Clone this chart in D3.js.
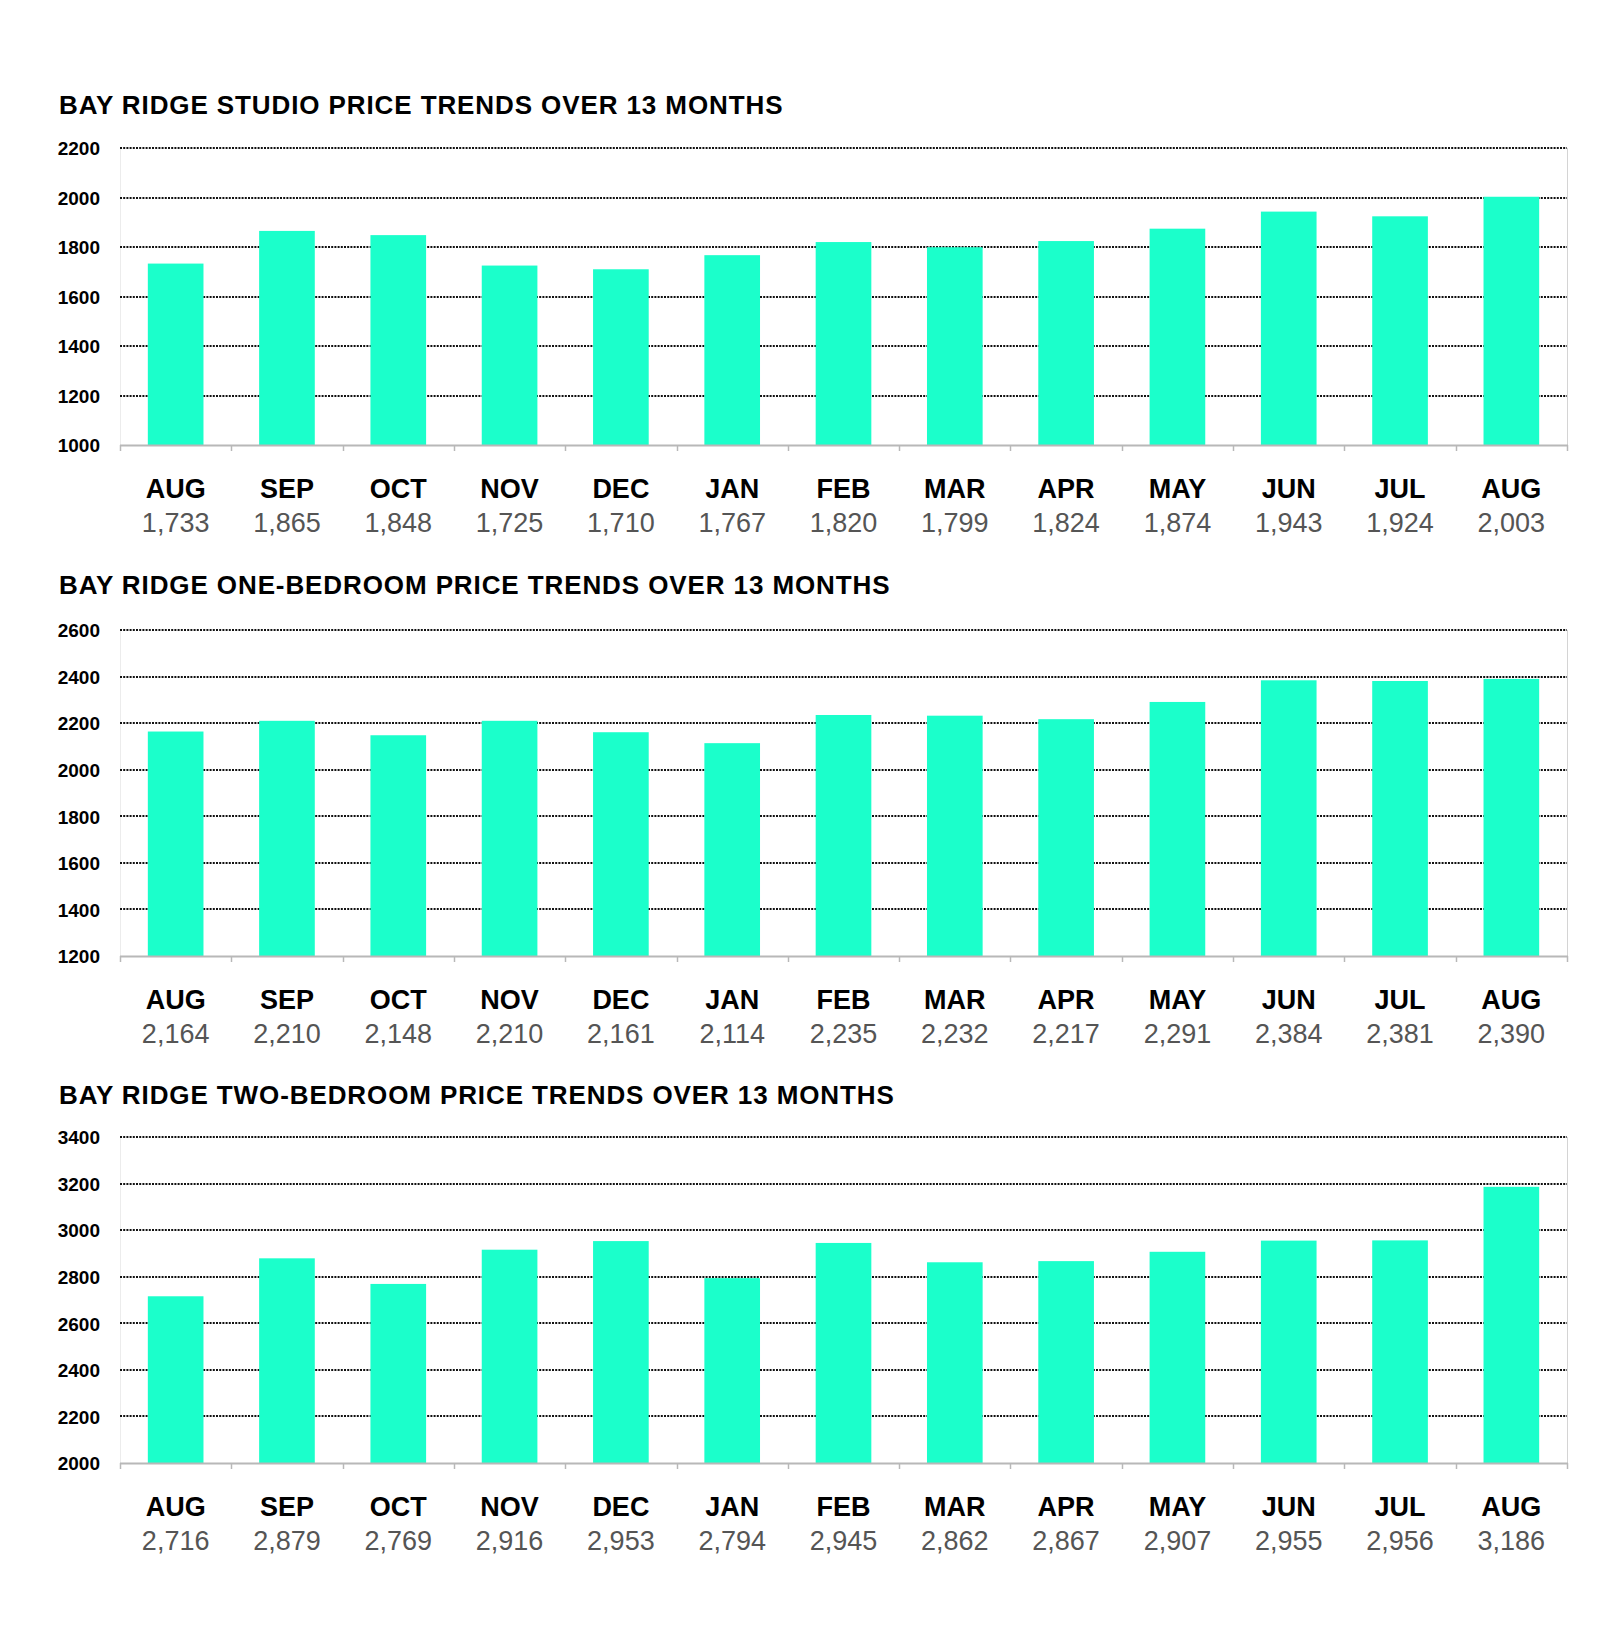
<!DOCTYPE html>
<html>
<head>
<meta charset="utf-8">
<script src="https://cdn.jsdelivr.net/npm/d3@7"></script>
<style>
  html, body { margin: 0; padding: 0; background: #fff; }
  svg { display: block; }
</style>
</head>
<body>
<svg id="chart" width="1600" height="1626"></svg>
<script>
// ---- data ----
const months = ["AUG","SEP","OCT","NOV","DEC","JAN","FEB","MAR","APR","MAY","JUN","JUL","AUG"];
const studioValues = [1733,1865,1848,1725,1710,1767,1820,1799,1824,1874,1943,1924,2003];
const oneBedValues = [2164,2210,2148,2210,2161,2114,2235,2232,2217,2291,2384,2381,2390];
const twoBedValues = [2716,2879,2769,2916,2953,2794,2945,2862,2867,2907,2955,2956,3186];
const studioTicks = [1000,1200,1400,1600,1800,2000,2200];
const oneBedTicks = [1200,1400,1600,1800,2000,2200,2400,2600];
const twoBedTicks = [2000,2200,2400,2600,2800,3000,3200,3400];
const titles = [
  "BAY RIDGE STUDIO PRICE TRENDS OVER 13 MONTHS",
  "BAY RIDGE ONE-BEDROOM PRICE TRENDS OVER 13 MONTHS",
  "BAY RIDGE TWO-BEDROOM PRICE TRENDS OVER 13 MONTHS"
];

// ---- layout ----
const panels = [
  { title: titles[0], values: studioValues, ticks: studioTicks, titleY: 114, top: 148, bottom: 445 },
  { title: titles[1], values: oneBedValues, ticks: oneBedTicks, titleY: 594, top: 630, bottom: 956 },
  { title: titles[2], values: twoBedValues, ticks: twoBedTicks, titleY: 1104, top: 1137, bottom: 1463 }
];
const left = 120, right = 1567;
const barColor = "#1bffcb";
const font = "'Liberation Sans', Arial, sans-serif";

const svg = d3.select("#chart");

panels.forEach((p, pi) => {
  const g = svg.append("g");
  const x = d3.scaleBand().domain(d3.range(months.length)).range([left, right]).paddingInner(0.5).paddingOuter(0.25);
  const xb = d3.scaleBand().domain(d3.range(months.length)).range([left, right]);
  const y = d3.scaleLinear().domain(d3.extent(p.ticks)).range([p.bottom, p.top]);

  // title
  g.append("text")
    .attr("x", 59).attr("y", p.titleY)
    .attr("font-family", font).attr("font-weight", "bold").attr("font-size", 26)
    .attr("letter-spacing", 0.9)
    .attr("fill", "#000")
    .text(p.title);

  // left & right light borders
  g.append("line").attr("x1", left + 0.5).attr("x2", left + 0.5).attr("y1", p.top).attr("y2", p.bottom)
    .attr("stroke", "#ececec").attr("stroke-width", 1);
  g.append("line").attr("x1", right + 0.5).attr("x2", right + 0.5).attr("y1", p.top).attr("y2", p.bottom)
    .attr("stroke", "#d4d4d4").attr("stroke-width", 1);

  // gridlines (dotted)
  g.append("g").selectAll("line").data(p.ticks.slice(1)).join("line")
    .attr("x1", left).attr("x2", right)
    .attr("y1", d => Math.round(y(d))).attr("y2", d => Math.round(y(d)))
    .attr("stroke", "#111").attr("stroke-width", 2).attr("stroke-dasharray", "2,1.2");

  // bars
  g.append("g").selectAll("rect").data(p.values).join("rect")
    .attr("x", (d, i) => x(i))
    .attr("width", x.bandwidth())
    .attr("y", d => y(d))
    .attr("height", d => p.bottom - y(d))
    .attr("fill", barColor);

  // y axis labels
  const yAxis = d3.axisLeft(y).tickValues(p.ticks).tickSize(0).tickPadding(20).tickFormat(d3.format("d"));
  const ya = g.append("g").attr("transform", `translate(${left},0)`).call(yAxis);
  ya.select(".domain").remove();
  ya.selectAll("text")
    .attr("font-family", font).attr("font-weight", "bold").attr("font-size", 19)
    .attr("fill", "#000").attr("dy", "0.36em");

  // x axis baseline and boundary ticks
  g.append("line").attr("x1", left).attr("x2", right + 1).attr("y1", p.bottom + 0.5).attr("y2", p.bottom + 0.5)
    .attr("stroke", "#b8b8b8").attr("stroke-width", 2);
  const bounds = d3.range(months.length + 1).map(i => left + i * xb.step());
  g.append("g").selectAll("line").data(bounds).join("line")
    .attr("x1", d => Math.round(d) + 0.5).attr("x2", d => Math.round(d) + 0.5)
    .attr("y1", p.bottom).attr("y2", p.bottom + 6)
    .attr("stroke", "#b8b8b8").attr("stroke-width", 1.5);

  // month labels
  g.append("g").selectAll("text").data(months).join("text")
    .attr("x", (d, i) => xb(i) + xb.bandwidth() / 2)
    .attr("y", p.bottom + 53)
    .attr("text-anchor", "middle")
    .attr("font-family", font).attr("font-weight", "bold").attr("font-size", 27)
    .attr("fill", "#000")
    .text(d => d);

  // value labels
  g.append("g").selectAll("text").data(p.values).join("text")
    .attr("x", (d, i) => xb(i) + xb.bandwidth() / 2)
    .attr("y", p.bottom + 87)
    .attr("text-anchor", "middle")
    .attr("font-family", font).attr("font-size", 27)
    .attr("fill", "#555")
    .text(d => d3.format(",")(d));
});
</script>
</body>
</html>
